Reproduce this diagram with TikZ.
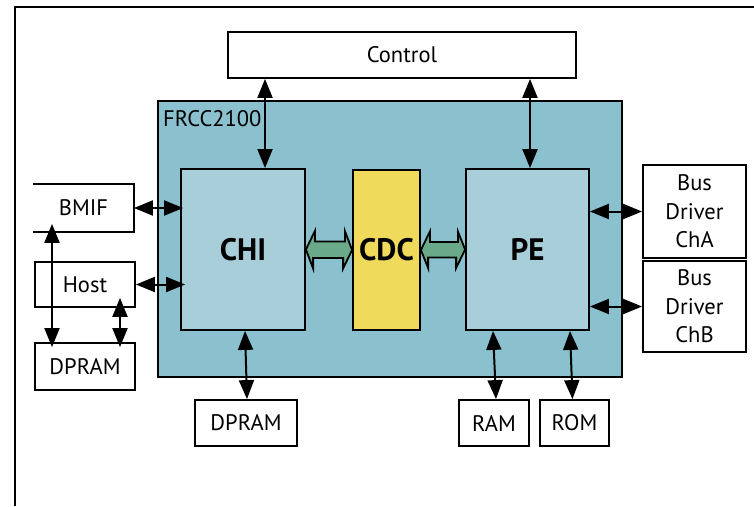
\documentclass[tikz,border=0pt]{standalone}
\usepackage{fontspec}
\setmainfont{PT Sans}
\usetikzlibrary{arrows.meta}
\definecolor{xip}{HTML}{8BC1CF}
\definecolor{modul}{HTML}{A8CEDA}
\definecolor{groc}{HTML}{EFDA5B}
\definecolor{verd}{HTML}{6AA98A}
\tikzset{
  box/.style={draw=black, line width=1.8pt, fill=white, inner sep=0pt,
    align=center, font=\fontsize{22.5}{28.5}\selectfont},
  unit/.style={draw=black, line width=1.8pt, fill=modul, inner sep=0pt,
    font=\fontsize{31}{36}\selectfont\bfseries},
  link/.style={line width=2pt,
    {Triangle[length=19pt,width=15pt]}-{Triangle[length=19pt,width=15pt]}},
  fat/.style={draw=black, line width=1.8pt, fill=verd, line join=miter},
}

\begin{document}
\begin{tikzpicture}[x=1pt,y=-1pt]
  \useasboundingbox (0,0) rectangle (754,506);
  % outer frame
  \draw[line width=1.2pt] (15,506) -- (15,7) -- (754,7);

  % chip
  \node[draw=black, line width=1.8pt, fill=xip, inner sep=0pt,
    minimum width=464pt, minimum height=276pt] (frcc) at (390,239) {};
  \node[anchor=base west, inner sep=0pt, font=\fontsize{22.5}{26}\selectfont]
    (frcclabel) at (163,126) {FRCC2100};
  \node[unit, minimum width=124pt, minimum height=161pt] (chi) at (243,249.5) {CHI};
  \node[unit, fill=groc, minimum width=67pt, minimum height=160pt] (cdc) at (386.5,250) {CDC};
  \node[unit, minimum width=123pt, minimum height=161pt] (pe) at (527.5,249.5) {PE};

  % outside blocks
  \node[box, minimum width=348pt, minimum height=46pt] (ctrl) at (402,55) {Control};
  \node[box, draw=none, minimum width=99pt, minimum height=46pt] (bmif) at (83.5,208) {BMIF};
  \draw[line width=1.8pt] (bmif.north west) -- (bmif.north east)
    -- (bmif.south east) -- (bmif.south west);
  \node[box, minimum width=100pt, minimum height=45pt] (host) at (85,284.5) {Host};
  \node[box, minimum width=100pt, minimum height=47pt] (dpramL) at (85,366.5) {DPRAM};
  \node[box, minimum width=102pt, minimum height=46pt] (dpramB) at (246,423) {DPRAM};
  \node[box, minimum width=70pt, minimum height=46pt] (ram) at (494,423) {RAM};
  \node[box, minimum width=69pt, minimum height=46pt] (rom) at (574.5,423) {ROM};
  \node[box, minimum width=103pt, minimum height=93pt] (busA) at (694.5,211.5) {Bus\\Driver\\ChA};
  \node[box, minimum width=103pt, minimum height=91pt] (busB) at (694.5,306.5) {Bus\\Driver\\ChB};

  % block arrows
  \draw[fat] (chi.east) -- ++(9,-18.5) -- ++(0,10.5) -- ++(30,0) -- ++(0,-10.5)
    -- (cdc.west) -- ++(-9,18.5) -- ++(0,-10.5) -- ++(-30,0) -- ++(0,10.5) -- cycle;
  \draw[fat] (cdc.east) -- ++(9,-18.5) -- ++(0,10.5) -- ++(28,0) -- ++(0,-10.5)
    -- (pe.west) -- ++(-9,18.5) -- ++(0,-10.5) -- ++(-28,0) -- ++(0,10.5) -- cycle;

  % connectors
  \draw[link] ([xshift=-137pt]ctrl.south) -- ([xshift=22pt]chi.north);
  \draw[link] ([xshift=128pt]ctrl.south) -- ([xshift=2.5pt]pe.north);
  \draw[link, shorten >=-3pt] (bmif.east) -- (bmif.east -| chi.west);
  \draw[link, shorten >=-5pt] (host.east) -- (host.east -| chi.west);
  \draw[link, shorten <=-8pt, shorten >=-5pt]
    ([xshift=-31.5pt]bmif.south) -- ([xshift=-33pt]dpramL.north);
  \draw[link, shorten <=-10pt, shorten >=-5pt]
    ([xshift=35pt]host.south) -- ([xshift=35pt]dpramL.north);
  \draw[link] ([xshift=2pt]chi.south) -- ([xshift=1pt]dpramB.north);
  \draw[link] ([xshift=-34.5pt]pe.south) -- ([xshift=2pt]ram.north);
  \draw[link] ([xshift=42.5pt]pe.south) -- ([xshift=-2pt]rom.north);
  \draw[link] (busA.west -| pe.east) -- (busA.west);
  \draw[link] (busB.west -| pe.east) -- (busB.west);
\end{tikzpicture}
\end{document}
